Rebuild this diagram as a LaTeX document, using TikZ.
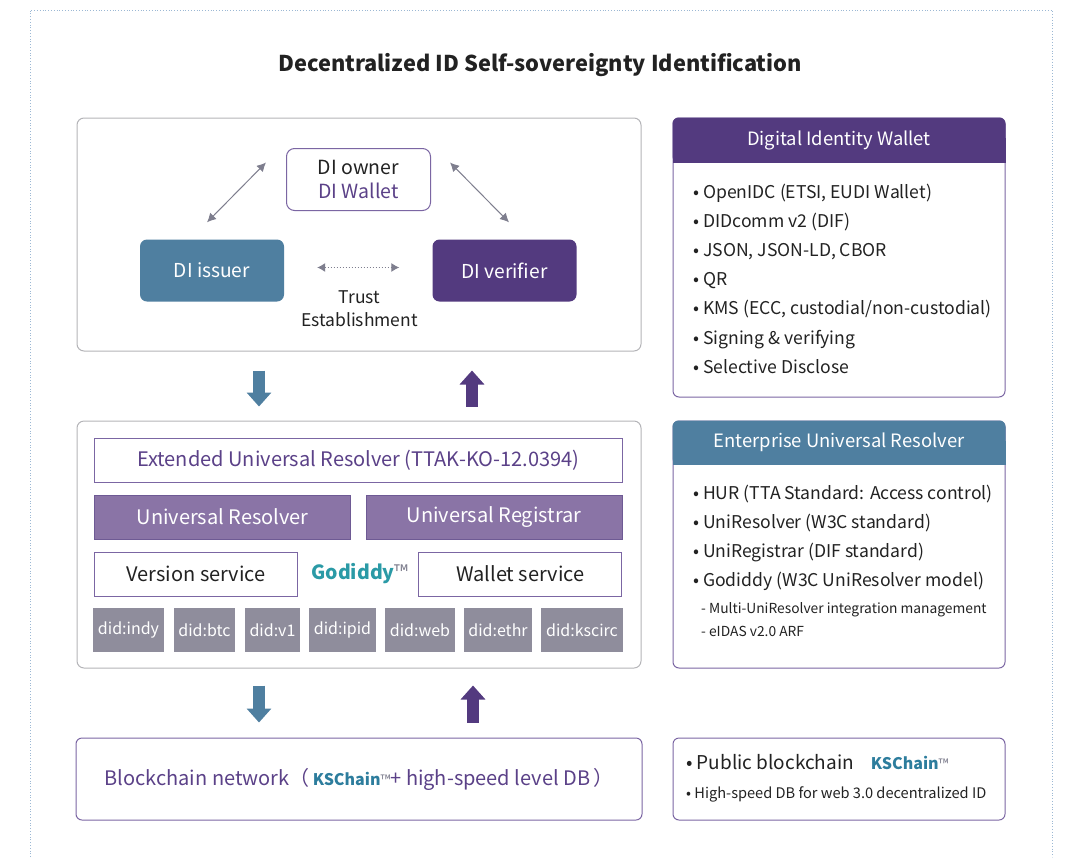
\documentclass[tikz,border=0pt]{standalone}
\usepackage{fontspec}
\setmainfont{Noto Sans CJK KR}
\usetikzlibrary{positioning,arrows.meta,calc}
\definecolor{IssuerBlue}{HTML}{4F7FA0}
\definecolor{VerifierPurple}{HTML}{533A7F}
\definecolor{ResolverPurple}{HTML}{8A74A6}
\definecolor{ResolverEdge}{HTML}{6E5A94}
\definecolor{DidGray}{HTML}{8F8D9C}
\definecolor{LinePurple}{HTML}{7B66A3}
\definecolor{TextPurple}{HTML}{5B4188}
\definecolor{GodiddyTeal}{HTML}{2A9AA6}
\definecolor{ChainTeal}{HTML}{2D7D9D}
\definecolor{FrameGray}{HTML}{B4B4B8}
\definecolor{ArrowGray}{HTML}{7E7E8E}
\definecolor{DotBlue}{HTML}{9CB8D4}
\definecolor{DarkText}{HTML}{222222}

\begin{document}
\begin{tikzpicture}[x=1pt, y=-1pt,
    frame/.style={rectangle, rounded corners=7pt, draw=FrameGray, line width=1pt, fill=white},
    panel/.style={rectangle, rounded corners=6pt, draw=LinePurple, line width=1pt, fill=white},
    rolebox/.style={rectangle, rounded corners=7pt, minimum width=144pt, minimum height=62pt,
        text=white, font=\fontsize{19.2}{22}\selectfont},
    layer/.style={rectangle, draw=LinePurple, line width=1pt, fill=white, minimum height=44pt,
        font=\fontsize{20}{22}\selectfont},
    resbox/.style={layer, draw=ResolverEdge, fill=ResolverPurple, text=white, minimum width=256pt},
    didbox/.style={rectangle, fill=DidGray, minimum height=44pt, inner sep=1pt, text=white,
        font=\fontsize{16}{18}\selectfont},
    dualarr/.style={{Latex[length=9pt,width=9pt]}-{Latex[length=9pt,width=9pt]}, draw=ArrowGray, line width=1pt},
    blockarr/.style={line width=12pt, -{Triangle[length=14pt,width=24pt]}},
    item/.style={anchor=base west, inner sep=0pt, text=DarkText, font=\fontsize{17.6}{20}\selectfont},
    subitem/.style={item, font=\fontsize{13.8}{16}\selectfont},
    headtext/.style={text=white, font=\fontsize{18.4}{20}\selectfont},
]
\useasboundingbox (0,0) rectangle (1065,857);
\draw[DotBlue, dotted, line width=0.8pt] (30,857) -- (30,10) -- (1052,10) -- (1052,857);

% title
\node[font=\fontsize{21.8}{26}\selectfont\bfseries, text=DarkText] (title) at (540,65) {Decentralized ID Self-sovereignty Identification};

% trust triangle
\node[frame, minimum width=564pt, minimum height=233pt] (topframe) at (359,234.5) {};
\node[rectangle, rounded corners=8pt, draw=LinePurple, line width=1pt, fill=white,
    minimum width=144pt, minimum height=62pt, align=center, text=DarkText,
    font=\fontsize{19.5}{24}\selectfont] (owner) at (358.5,179.5) {DI owner\\\textcolor{TextPurple}{DI Wallet}};
\node[rolebox, fill=IssuerBlue] (issuer) at (212,270.5) {DI issuer};
\node[rolebox, fill=VerifierPurple] (verifier) at (504.5,270.5) {DI verifier};
\draw[dualarr] ($(issuer.north)+(-5,-17)$) -- ($(owner.west)+(-20,-17)$);
\draw[dualarr] ($(owner.east)+(19,-17)$) -- ($(verifier.north)+(4.5,-17)$);
\draw[dualarr, dotted, {Latex[length=8pt,width=9pt]}-{Latex[length=8pt,width=9pt]}]
    ($(issuer.east)+(33,-3)$) -- ($(verifier.west)+(-33,-3)$);
\node[align=center, text=DarkText, font=\fontsize{17.5}{23}\selectfont] (trust) at (359.5,308.5) {Trust\\Establishment};

% resolver stack
\node[frame, minimum width=564pt, minimum height=247pt] (midframe) at (359,544.5) {};
\node[layer, minimum width=528pt, text=TextPurple] (ext) at (358.2,460.2) {Extended Universal Resolver (TTAK-KO-12.0394)};
\node[resbox] (resolver) at (222.7,517) {Universal Resolver};
\node[resbox] (registrar) at (494,517) {Universal Registrar};
\node[layer, minimum width=203pt, text=DarkText] (version) at (196,574) {Version service};
\node[layer, minimum width=203pt, text=DarkText] (wallet) at (520.3,574) {Wallet service};
\node[font=\fontsize{19.5}{22}\selectfont] (godiddy) at (360,574)
    {\textcolor{GodiddyTeal}{\bfseries Godiddy}\textcolor{ArrowGray}{™}};
\foreach \l/\r/\name in {93/164/indy, 174/235/btc, 245/300/v1, 309/376/ipid, 385/455/web, 464/532/ethr, 541/623/kscirc}
    \node[didbox, minimum width=\r-\l] (did-\name) at ({(\l+\r)/2},630) {did:\name};

% blockchain
\node[panel, minimum width=566pt, minimum height=82pt, text=TextPurple, font=\fontsize{20}{22}\selectfont] (chain) at (359,779)
    {Blockchain network（\,\textcolor{ChainTeal}{\fontsize{16}{18}\selectfont\bfseries KSChain}{\fontsize{14}{16}\selectfont\textcolor{ArrowGray}{™}}+ high-speed level DB\,）};

% block arrows
\draw[blockarr, IssuerBlue] ($(topframe.south)+(-100,19)$) -- ($(midframe.north)+(-100,-14)$);
\draw[blockarr, VerifierPurple] ($(midframe.north)+(113,-14)$) -- ($(topframe.south)+(113,19)$);
\draw[blockarr, IssuerBlue] ($(midframe.south)+(-100,17)$) -- ($(chain.north)+(-100,-15)$);
\draw[blockarr, VerifierPurple] ($(chain.north)+(114,-15)$) -- ($(midframe.south)+(114,17)$);

% digital identity wallet
\node[panel, minimum width=332pt, minimum height=279pt] (diw) at (839,257.5) {};
\fill[VerifierPurple, rounded corners=6pt] (diw.north west) rectangle ($(diw.north east)+(0,45)$);
\fill[VerifierPurple] ($(diw.north west)+(0,20)$) rectangle ($(diw.north east)+(0,45)$);
\node[headtext] (diw-head) at ($(diw.north)+(0,22.5)$) {Digital Identity Wallet};
\foreach \txt [count=\i from 0] in {{OpenIDC (ETSI, EUDI Wallet)}, {DIDcomm v2 (DIF)}, {JSON, JSON-LD, CBOR}, QR,
        {KMS (ECC, custodial/non-custodial)}, {Signing \& verifying}, {Selective Disclose}}
    \node[item] (diw-\i) at (693,198+29.2*\i) {\textbullet\ \txt};

% enterprise universal resolver
\node[panel, minimum width=332pt, minimum height=247pt] (eur) at (839,544.5) {};
\fill[IssuerBlue, rounded corners=6pt] (eur.north west) rectangle ($(eur.north east)+(0,44)$);
\fill[IssuerBlue] ($(eur.north west)+(0,20)$) rectangle ($(eur.north east)+(0,44)$);
\node[headtext] (eur-head) at ($(eur.north)+(0,22)$) {Enterprise Universal Resolver};
\foreach \txt [count=\i from 0] in {{HUR (TTA Standard: Access control)}, {UniResolver (W3C standard)},
        {UniRegistrar (DIF standard)}, {Godiddy (W3C UniResolver model)}}
    \node[item] (eur-\i) at (693,499+29.3*\i) {\textbullet\ \txt};
\node[subitem] (eur-sub1) at (701,613) {- Multi-UniResolver integration management};
\node[subitem] (eur-sub2) at (701,636) {- eIDAS v2.0 ARF};

% kschain note
\node[panel, minimum width=332pt, minimum height=82pt] (note) at (839,779) {};
\node[item, font=\fontsize{19}{20}\selectfont] (note-1) at (686,769)
    {\textbullet\ Public blockchain\hspace{17pt}\textcolor{ChainTeal}{\fontsize{16}{18}\selectfont\bfseries KSChain}{\fontsize{14}{16}\selectfont\textcolor{ArrowGray}{™}}};
\node[subitem, font=\fontsize{14.6}{16}\selectfont] (note-2) at (686,798) {\textbullet\ High-speed DB for web 3.0 decentralized ID};
\end{tikzpicture}
\end{document}
